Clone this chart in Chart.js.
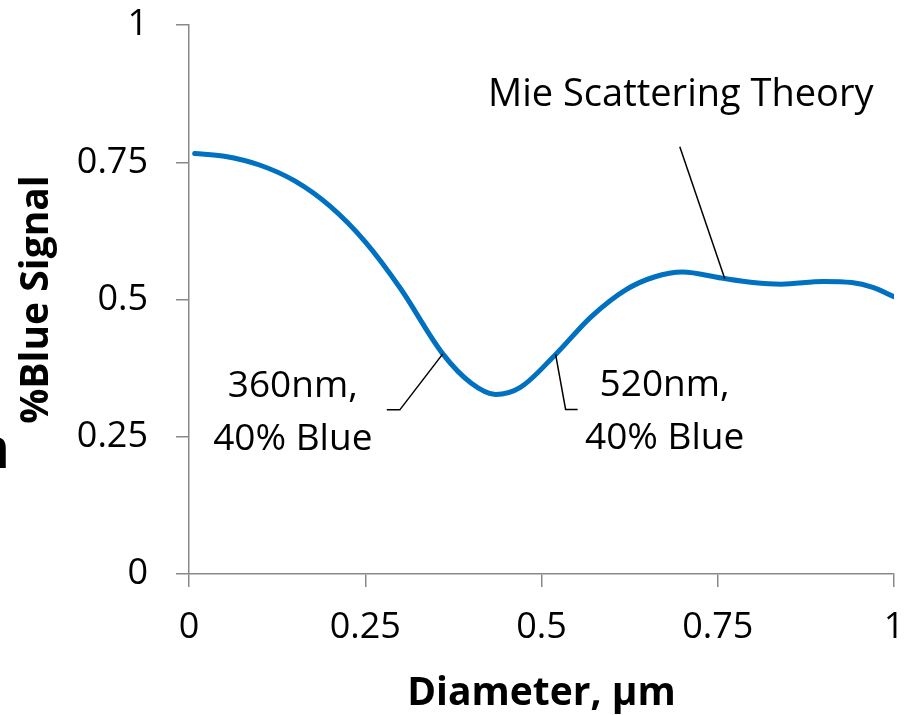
<!DOCTYPE html>
<html>
<head>
<meta charset="utf-8">
<script src="https://cdn.jsdelivr.net/npm/chart.js@4.4.1/dist/chart.umd.min.js"></script>
<style>
  html, body { margin: 0; padding: 0; background: #fff; }
  #wrap { width: 907px; height: 715px; position: relative; }
</style>
</head>
<body>
<div id="wrap"><canvas id="chart"></canvas></div>
<script>
// diameter in µm and the fraction of blue signal
const diameters = [0.008, 0.05, 0.10, 0.15, 0.20, 0.25, 0.30, 0.36, 0.40, 0.435, 0.47, 0.52, 0.57, 0.62, 0.66, 0.70, 0.755, 0.80, 0.84, 0.90, 0.94, 0.97, 1.0];
const blueSignal = [0.766, 0.761, 0.745, 0.716, 0.670, 0.605, 0.520, 0.401, 0.348, 0.327, 0.340, 0.40, 0.468, 0.518, 0.541, 0.550, 0.539, 0.531, 0.528, 0.533, 0.531, 0.522, 0.505];

const xTicks = [0, 0.25, 0.5, 0.75, 1];
const yTicks = [0, 0.25, 0.5, 0.75, 1];

// callouts: anchor on the curve plus text
const callouts = [
  { x: 0.36, y: 0.401, lines: ["360nm,", "40% Blue"] },
  { x: 0.52, y: 0.40, lines: ["520nm,", "40% Blue"] },
  { x: 0.76, y: 0.538, lines: ["Mie Scattering Theory"] }
];

const FONT = "'Open Sans', 'Noto Sans', sans-serif";
const axisGrey = "#898989";

const calloutPlugin = {
  id: "callouts",
  afterDatasetsDraw(chart) {
    const ctx = chart.ctx;
    const xs = chart.scales.x, ys = chart.scales.y;
    // leader geometry relative to the anchor point
    const layout = [
      { path: [[-43, 56], [-56, 56]], tx: -150, ty: [43, 96], size: 37 },
      { path: [[10, 55], [22, 55]], tx: 109, ty: [42, 95], size: 37 },
      { path: [[-45, -132]], tx: -44, ty: [-173], size: 38 }
    ];
    ctx.save();
    ctx.strokeStyle = "#000";
    ctx.lineWidth = 1.5;
    ctx.fillStyle = "#000";
    ctx.textAlign = "center";
    ctx.textBaseline = "alphabetic";
    callouts.forEach((c, i) => {
      const px = xs.getPixelForValue(c.x);
      const py = ys.getPixelForValue(c.y);
      const l = layout[i];
      ctx.beginPath();
      ctx.moveTo(px, py);
      l.path.forEach(p => ctx.lineTo(px + p[0], py + p[1]));
      ctx.stroke();
      ctx.font = l.size + "px " + FONT;
      c.lines.forEach((t, j) => ctx.fillText(t, px + l.tx, py + l.ty[j]));
    });
    // clipped glyph at the left edge of the original
    ctx.font = "bold 58px " + FONT;
    ctx.textAlign = "left";
    ctx.fillText("n", -28, 468);
    ctx.restore();
  }
};

new Chart(document.getElementById("chart"), {
  type: "line",
  data: {
    datasets: [{
      label: "Mie Scattering Theory",
      data: diameters.map((d, i) => ({ x: d, y: blueSignal[i] })),
      borderColor: "#0070C0",
      borderWidth: 5,
      borderCapStyle: "round",
      pointRadius: 0,
      cubicInterpolationMode: "monotone",
      fill: false
    }]
  },
  options: {
    responsive: true,
    maintainAspectRatio: false,
    animation: false,
    layout: { padding: { top: 25, right: 13, left: 0, bottom: 0 } },
    plugins: {
      legend: { display: false },
      tooltip: { enabled: false }
    },
    scales: {
      x: {
        type: "linear",
        min: 0,
        max: 1,
        afterBuildTicks: s => { s.ticks = xTicks.map(v => ({ value: v })); },
        afterFit: s => { s.height = 141; s.paddingLeft = 0; s.paddingRight = 0; },
        ticks: {
          color: "#000",
          font: { family: FONT, size: 36 },
          padding: 19,
          maxRotation: 0,
          callback: v => String(v)
        },
        grid: { drawOnChartArea: false, color: axisGrey, lineWidth: 1.5, tickLength: 13 },
        border: { color: axisGrey, width: 1.5 },
        title: {
          display: true,
          text: "Diameter, µm",
          color: "#000",
          font: { family: FONT, size: 39, weight: "bold", lineHeight: 1.1 },
          padding: { top: 0, bottom: 0 }
        }
      },
      y: {
        min: 0,
        max: 1,
        afterBuildTicks: s => { s.ticks = yTicks.map(v => ({ value: v })); },
        afterFit: s => { s.width = 189; s.paddingTop = 0; s.paddingBottom = 0; },
        ticks: {
          color: "#000",
          font: { family: FONT, size: 36 },
          padding: 28,
          callback: v => String(v)
        },
        grid: { drawOnChartArea: false, color: axisGrey, lineWidth: 1.5, tickLength: 13 },
        border: { color: axisGrey, width: 1.5 },
        title: {
          display: true,
          text: "%Blue Signal",
          color: "#000",
          font: { family: FONT, size: 39, weight: "bold", lineHeight: 1.1 },
          padding: { top: 15, bottom: 0 }
        }
      }
    }
  },
  plugins: [calloutPlugin]
});
</script>
</body>
</html>
